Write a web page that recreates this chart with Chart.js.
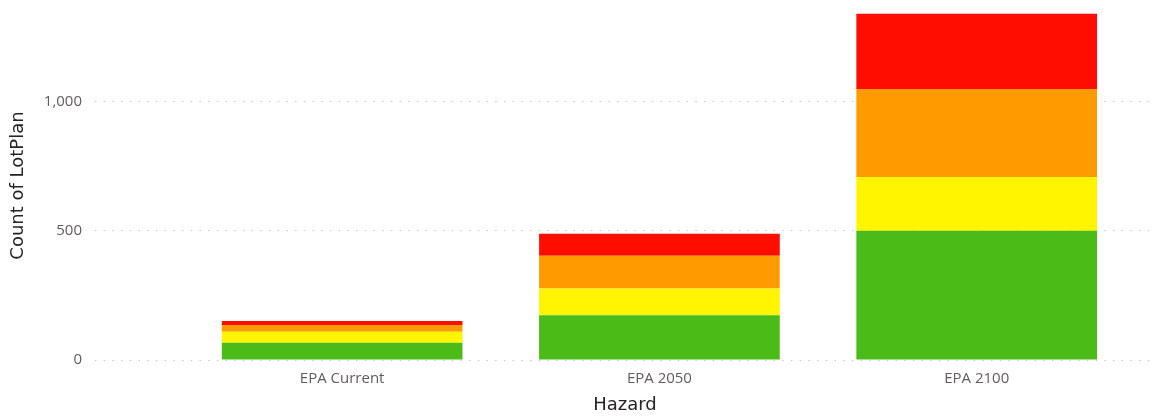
<!DOCTYPE html>
<html>
<head>
<meta charset="utf-8">
<script src="https://cdn.jsdelivr.net/npm/chart.js@4/dist/chart.umd.min.js"></script>
<style>
  html, body { margin: 0; padding: 0; background: #ffffff; }
  #wrap { width: 1158px; height: 416px; position: relative; }
</style>
</head>
<body>
<div id="wrap"><canvas id="c"></canvas></div>
<script>
// Hazard scenarios and the count of lots in each risk band
const categories = ['EPA Current', 'EPA 2050', 'EPA 2100'];
const lowBand      = [67, 173, 500];
const mediumBand   = [42, 104, 208];
const highBand     = [26, 126, 340];
const extremeBand  = [16, 85, 291];
const yTickValues  = [0, 500, 1000];

const bandColors = ['#4BBB18', '#FFF500', '#FF9B00', '#FF0D00'];
const bands = [lowBand, mediumBand, highBand, extremeBand];
const bandNames = ['Low', 'Medium', 'High', 'Extreme'];

const datasets = bands.map((vals, i) => ({
  label: bandNames[i],
  data: vals.map((v, j) => ({ x: j, y: v })),
  backgroundColor: bandColors[i],
  borderWidth: 0,
  barPercentage: 0.7586,
  categoryPercentage: 1.0,
  stack: 'hazard'
}));

new Chart(document.getElementById('c'), {
  type: 'bar',
  data: { datasets },
  options: {
    responsive: true,
    maintainAspectRatio: false,
    animation: false,
    layout: { padding: { top: 11, right: 3, left: 0, bottom: 0 } },
    plugins: { legend: { display: false }, tooltip: { enabled: false } },
    scales: {
      x: {
        type: 'linear',
        stacked: true,
        offset: false,
        min: -0.779,
        max: 2.562,
        afterBuildTicks: (s) => { s.ticks = categories.map((_, i) => ({ value: i })); },
        afterFit: (s) => { s.height = 56; s.paddingLeft = 0; s.paddingRight = 0; },
        grid: { display: false },
        border: { display: false },
        ticks: {
          autoSkip: false,
          maxRotation: 0,
          padding: 2,
          color: '#605E5C',
          font: { family: 'Open Sans', size: 15 },
          callback: (v) => categories[v] ?? ''
        },
        title: {
          display: true,
          text: 'Hazard',
          color: '#252423',
          font: { family: 'DejaVu Sans', size: 18 },
          padding: { top: 3, bottom: 0 }
        }
      },
      y: {
        stacked: true,
        min: 0,
        max: 1350,
        afterBuildTicks: (s) => { s.ticks = yTickValues.map(v => ({ value: v })); },
        afterFit: (s) => { s.width = 95; s.paddingTop = 0; s.paddingBottom = 0; },
        grid: {
          color: '#C8C6C4',
          lineWidth: 1,
          drawTicks: false
        },
        border: { display: false, dash: [1.5, 7.2] },
        ticks: {
          padding: 13,
          color: '#605E5C',
          font: { family: 'Open Sans', size: 15 },
          callback: (v) => v.toLocaleString('en-US')
        },
        title: {
          display: true,
          text: 'Count of LotPlan',
          color: '#252423',
          font: { family: 'DejaVu Sans', size: 18 },
          padding: { top: 8, bottom: 0 }
        }
      }
    }
  }
});
</script>
</body>
</html>
